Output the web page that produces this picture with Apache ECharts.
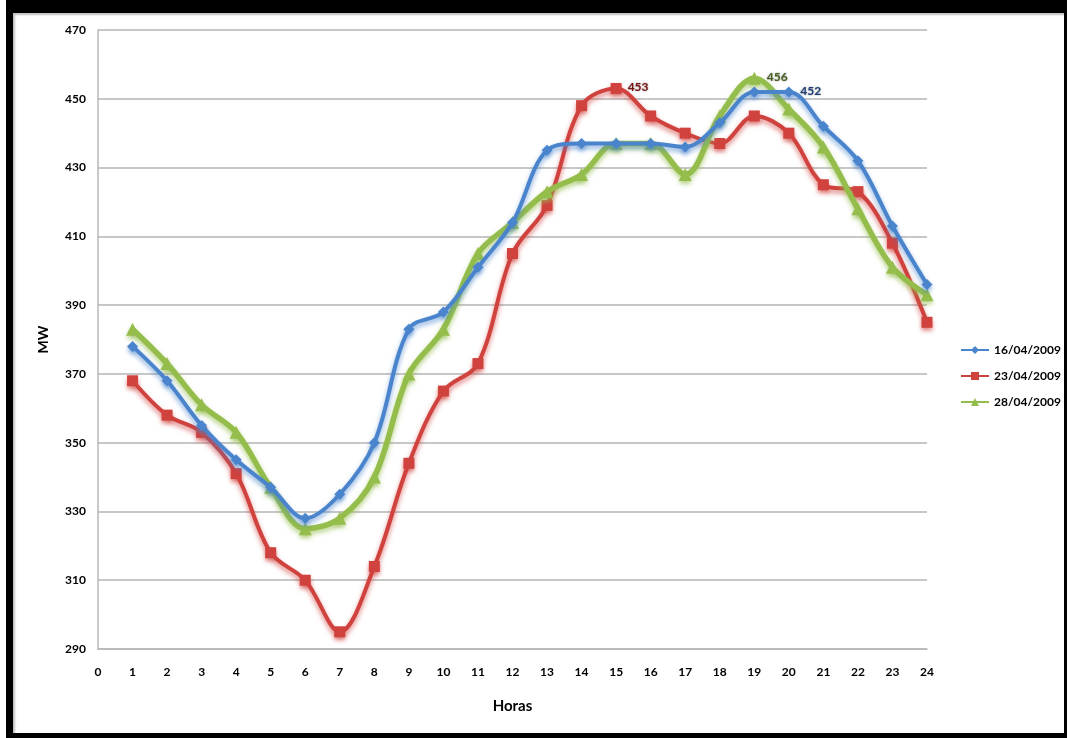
<!DOCTYPE html>
<html>
<head>
<meta charset="utf-8">
<title>MW por hora</title>
<script src="https://cdn.jsdelivr.net/npm/echarts@6/dist/echarts.min.js"></script>
<style>
  html, body { margin: 0; padding: 0; background: #fff; }
  #wrap { position: relative; width: 1070px; height: 738px; overflow: hidden; }
  #chart { position: absolute; left: 0; top: 0; width: 1070px; height: 738px; }
  #frame {
    position: absolute; left: 6px; top: 0; width: 1061px; height: 738px;
    box-sizing: border-box; pointer-events: none;
    border-top: 13px solid #000; border-left: 7px solid #000;
    border-right: 3px solid #000; border-bottom: 5px solid #000;
    box-shadow: inset 2px 2px 2px rgba(0,0,0,0.25);
  }
</style>
</head>
<body>
<div id="wrap">
  <div id="chart"></div>
  <div id="frame"></div>
</div>
<script>
// Hourly demand (MW) for three days
const hours = [1, 2, 3, 4, 5, 6, 7, 8, 9, 10, 11, 12, 13, 14, 15, 16, 17, 18, 19, 20, 21, 22, 23, 24];
const day16 = [378, 368, 355, 345, 337, 328, 335, 350, 383, 388, 401, 414, 435, 437, 437, 437, 436, 443, 452, 452, 442, 432, 413, 396];
const day23 = [368, 358, 353, 341, 318, 310, 295, 314, 344, 365, 373, 405, 419, 448, 453, 445, 440, 437, 445, 440, 425, 423, 408, 385];
const day28 = [383, 373, 361, 353, 337, 325, 328, 340, 370, 383, 405, 414, 423, 428, 437, 437, 428, 445, 456, 447, 436, 418, 401, 393];
const seriesNames = ['16/04/2009', '23/04/2009', '28/04/2009'];
// hour whose value is written next to the point, per series
const labelHours = [20, 15, 19];
const yTicks = { min: 290, max: 470, step: 20 };
const xTicks = { min: 0, max: 24, step: 1 };

const colors = ['#4a84cc', '#d0423e', '#94bd4c'];
const labelColors = ['#1f3f7a', '#7a1414', '#4a6020'];
const symbols = ['diamond', 'rect', 'triangle'];
const symbolSizes = [11, 11, 13];
const widths = [4, 4, 5.5];

const fontMain = 'Lato, "Open Sans", sans-serif';

function buildSeries(idx, values) {
  const data = values.map((v, i) => {
    const pt = [hours[i], v];
    if (hours[i] === labelHours[idx]) {
      return {
        value: pt,
        label: {
          show: true,
          position: 'right',
          distance: 6,
          offset: [0, -1],
          formatter: String(v),
          color: labelColors[idx],
          fontFamily: fontMain,
          fontWeight: 'bold',
          fontSize: 12,
          textShadowColor: 'rgba(0,0,0,0.45)',
          textShadowBlur: 2
        }
      };
    }
    return pt;
  });
  return {
    name: seriesNames[idx],
    type: 'line',
    smooth: 0.35,
    data: data,
    symbol: symbols[idx],
    symbolSize: symbolSizes[idx],
    showAllSymbol: true,
    z: idx === 2 ? 3 : (idx === 0 ? 4 : 2),
    lineStyle: {
      color: colors[idx],
      width: widths[idx],
      shadowColor: colors[idx] + 'aa',
      shadowBlur: 5,
      shadowOffsetY: 3
    },
    itemStyle: {
      color: colors[idx],
      shadowColor: colors[idx] + '99',
      shadowBlur: 4,
      shadowOffsetY: 3
    },
    emphasis: { disabled: true }
  };
}

const chart = echarts.init(document.getElementById('chart'));
chart.setOption({
  animation: false,
  backgroundColor: '#ffffff',
  grid: { left: 98, right: 143, top: 30, bottom: 89, containLabel: false },
  legend: {
    orient: 'vertical',
    left: 955,
    top: 339,
    itemWidth: 28,
    itemHeight: 10,
    itemGap: 14,
    data: seriesNames,
    textStyle: { fontFamily: fontMain, fontWeight: 'bold', fontSize: 12, color: '#000' }
  },
  xAxis: {
    type: 'value',
    min: xTicks.min,
    max: xTicks.max,
    interval: xTicks.step,
    name: 'Horas',
    nameLocation: 'middle',
    nameGap: 50,
    nameTextStyle: { fontFamily: fontMain, fontWeight: 'bold', fontSize: 15, color: '#000' },
    axisLine: { show: true, lineStyle: { color: '#b8b8b8', width: 1.5 } },
    axisTick: { show: false },
    splitLine: { show: false },
    axisLabel: { margin: 17, fontFamily: fontMain, fontWeight: 'bold', fontSize: 12, color: '#000' }
  },
  yAxis: {
    type: 'value',
    min: yTicks.min,
    max: yTicks.max,
    interval: yTicks.step,
    name: 'MW',
    nameLocation: 'middle',
    nameGap: 48,
    nameTextStyle: { fontFamily: fontMain, fontWeight: 'bold', fontSize: 14, color: '#000' },
    axisLine: { show: true, lineStyle: { color: '#b8b8b8', width: 1.5 } },
    axisTick: { show: false },
    splitLine: { show: true, lineStyle: { color: '#b4b4b4', width: 1.5 } },
    axisLabel: { margin: 12, fontFamily: fontMain, fontWeight: 'bold', fontSize: 12, color: '#000' }
  },
  series: [buildSeries(0, day16), buildSeries(1, day23), buildSeries(2, day28)]
});
</script>
</body>
</html>
